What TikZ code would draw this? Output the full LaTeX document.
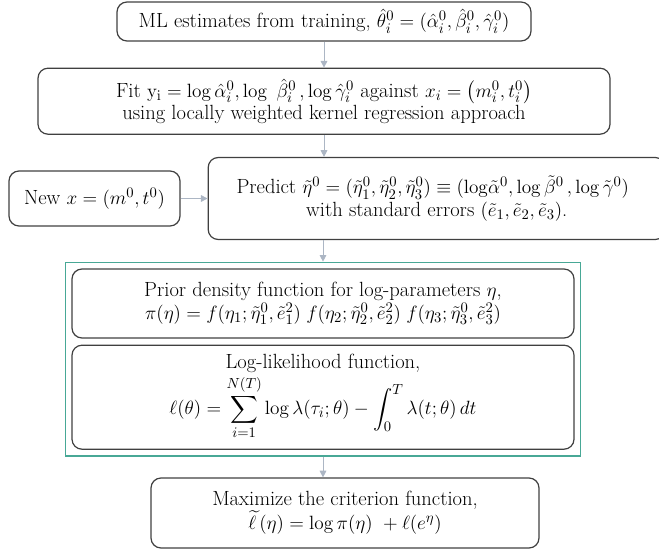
\documentclass[tikz,border=0pt]{standalone}
\usepackage{amsmath}
\usetikzlibrary {arrows.meta,fit,positioning}

\definecolor{boxline}{RGB}{64,64,64}
\definecolor{arrowgray}{RGB}{172,182,196}
\definecolor{fitgreen}{RGB}{72,168,150}

\begin{document}
\begin{tikzpicture}[x=0.75pt, y=-0.75pt,
    stepbox/.style={draw= boxline, line width=0.9pt, rounded corners=7.5pt,
      align=center, inner sep=0pt, font=\fontsize{15.4}{16.8}\selectfont},
    flow/.style={draw= arrowgray, line width=0.75pt, -{Triangle[width=5pt,length=5pt]}}]
      \useasboundingbox (0,0) rectangle (659,549);
      \begin{scope}[every node/.style={stepbox}]
        \node (train) [minimum width=310.5pt, minimum height=29.25pt] at (324,21.5)
          {ML estimates from training, $\hat{\theta}_i^0 = (\hat{\alpha}_i^0, \hat{\beta}_i^0, \hat{\gamma}_i^0)$};
        \node (fit) [minimum width=429pt, minimum height=49.5pt, below= 19.5pt of train]
          {Fit $\mathrm{y_i} = \log\hat{\alpha}_i^0, \log\ \hat{\beta}_i^0\,, \log\hat{\gamma}_i^0$ against $x_i = \left(m_i^0, t_i^0\right)$\\
           using locally weighted kernel regression approach};
        \node (newx) [minimum width=128.25pt, minimum height=41.25pt] at (94.5,198.5)
          {New $x = (m^0, t^0)$};
        \node (predict) [minimum width=342.75pt, minimum height=61.5pt, right= 20.25pt of newx]
          {Predict $\tilde{\eta}^0 = (\tilde{\eta}_1^0, \tilde{\eta}_2^0, \tilde{\eta}_3^0) \equiv (\mathrm{log}\tilde{\alpha}^0, \log\tilde{\beta}^0\,, \log\tilde{\gamma}^0)$\hspace*{6pt}\\
           with standard errors $(\tilde{e}_1, \tilde{e}_2, \tilde{e}_3)$.};
        \node (prior) [minimum width=376.5pt, minimum height=51.75pt] at (323,303.5)
          {Prior density function for log-parameters $\eta$,\\
           $\pi(\eta) = f(\eta_1; \tilde{\eta}_1^0, \tilde{e}_1^2)\; f(\eta_2; \tilde{\eta}_2^0, \tilde{e}_2^2)\; f(\eta_3; \tilde{\eta}_3^0, \tilde{e}_3^2)$};
        \node (loglik) [minimum width=376.5pt, minimum height=78pt, below= 4.5pt of prior]
          {Log-likelihood function,\\[1pt]
           $\displaystyle \ell(\theta) = \sum_{i=1}^{N(T)} \log\lambda(\tau_i;\theta) - \int_0^T \lambda(t;\theta)\,dt$};
        \node (maxcrit) [minimum width=291pt, minimum height=52.5pt] at (345,513)
          {Maximize the criterion function,\\
           $\widetilde{\ell}\,(\eta) = \log\pi(\eta)\ + \ell(e^{\eta})$};
      \end{scope}
      \node (group) [draw= fitgreen, line width=0.9pt, inner sep=4.6pt, fit=(prior)(loglik)] {};
      \begin{scope}[every path/.style={flow}]
        \draw (train.south) -- (train.south |- fit.north);
        \draw (fit.south) -- (fit.south |- predict.north);
        \draw (newx) -- (predict);
        \draw (group.north |- predict.south) -- (group.north);
        \draw (group.south) -- (group.south |- maxcrit.north);
      \end{scope}
    \end{tikzpicture}
\end{document}
